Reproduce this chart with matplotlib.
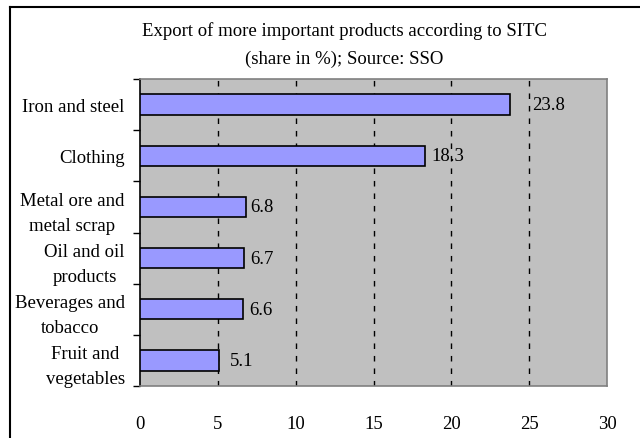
import matplotlib
matplotlib.use("Agg")
import matplotlib.pyplot as plt
from matplotlib.lines import Line2D

# data
categories = ["Iron and steel", "Clothing", "Metal ore and\nmetal scrap",
              "Oil and oil\nproducts", "Beverages and\ntobacco", "Fruit and\nvegetables"]
shares = [23.8, 18.3, 6.8, 6.7, 6.6, 5.1]
x_ticks = [0, 5, 10, 15, 20, 25, 30]

# label offsets from bar end (pixels), as Excel placed them
label_offsets = [22, 7, 4, 6, 7, 10]

plt.rcParams["font.family"] = ["Liberation Serif", "DejaVu Serif"]
FS = 13.5

fig = plt.figure(figsize=(6.4, 4.39), dpi=100)
W, H = 640, 439
ax = fig.add_axes([140 / W, 52 / H, 467 / W, 307 / H])
ax.set_facecolor("#C0C0C0")

n = len(categories)
ypos = list(range(n))
ax.barh(ypos, shares, height=0.4, color="#9999FF", edgecolor="black", linewidth=1.2, zorder=3)

ax.set_xlim(0, 30)
ax.set_ylim(n - 0.5, -0.5)
ax.set_xticks(x_ticks)
ax.set_xticklabels([str(v) for v in x_ticks], fontsize=FS)
ax.tick_params(axis="x", length=0, pad=21)

ax.set_yticks(ypos)
ax.set_yticklabels(categories, fontsize=FS)
for t in ax.get_yticklabels():
    t.set_multialignment("center")
    t.set_linespacing(1.6)
ax.tick_params(axis="y", which="major", length=0, pad=11)
ax.set_yticks([i - 0.5 for i in range(n + 1)], minor=True)
ax.tick_params(axis="y", which="minor", length=5, width=1, color="black", direction="out")

for x in x_ticks[1:-1]:
    ax.axvline(x, color="black", linewidth=1, linestyle=(0, (4, 5)), zorder=2)

for sp in ["top", "right", "bottom"]:
    ax.spines[sp].set_color("#808080")
    ax.spines[sp].set_linewidth(1.2)
ax.spines["left"].set_color("black")
ax.spines["left"].set_linewidth(1.2)

px = 1 / 100 * 72  # one pixel in points
for y, v, off in zip(ypos, shares, label_offsets):
    ax.annotate(f"{v:.1f}", (v, y), xytext=(off * px, 0), textcoords="offset points",
                va="center", ha="left", fontsize=FS)

fig.text(344 / W, 1 - 31 / H, "Export of more important products according to SITC",
         ha="center", va="center", fontsize=FS)
fig.text(344 / W, 1 - 59 / H, "(share in %); Source: SSO",
         ha="center", va="center", fontsize=FS)

# outer chart frame (right and bottom edges fall outside the image)
fig.add_artist(Line2D([10 / W, 10 / W], [0, 1 - 8 / H], color="black", linewidth=1.5,
                      transform=fig.transFigure))
fig.add_artist(Line2D([10 / W, 1], [1 - 8 / H, 1 - 8 / H], color="black", linewidth=1.5,
                      transform=fig.transFigure))

fig.savefig("out.png", dpi=100)
